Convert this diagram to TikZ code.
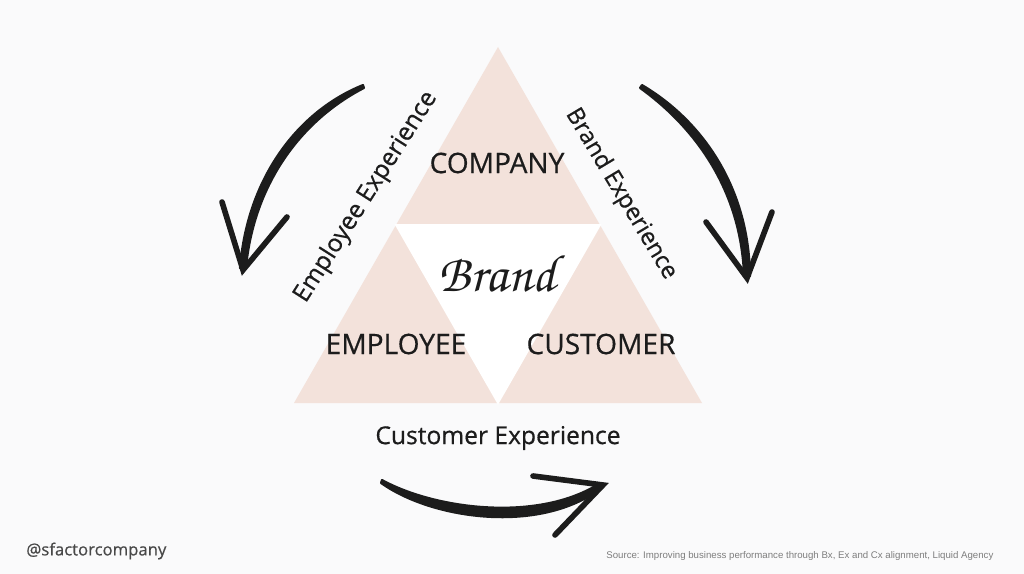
\documentclass[tikz,border=0pt]{standalone}
\usepackage[T1]{fontenc}
\usepackage{fontspec}
\setmainfont{Open Sans}[FakeBold=0.5]
\newfontfamily\sourcefont{Liberation Sans}
\usetikzlibrary{calc}
\definecolor{trianglepink}{RGB}{243,226,219}
\definecolor{pagegray}{RGB}{250,250,251}
\definecolor{inkblack}{RGB}{28,28,28}
\definecolor{handlegray}{RGB}{72,72,72}
\definecolor{sourcegray}{RGB}{125,125,125}
\newcommand{\brandscript}{\usefont{T1}{pzc}{m}{it}}
\tikzset{
    % Define standard node styles
    segmentlabel/.style={
        font=\fontsize{16}{18}\selectfont, text=inkblack, inner sep=0pt
    },
    experiencelabel/.style={
        font=\fontsize{14}{16}\selectfont, text=inkblack, inner sep=0pt
    },
    brandlabel/.style={
        font=\brandscript\fontsize{30}{32}\selectfont, text=inkblack, inner sep=0pt
    },
    brushfill/.style={
        fill=inkblack, draw=inkblack, line width=1.2pt, line join=round
    },
    brushbarb/.style={
        draw=inkblack, line width=3.2pt, line cap=round
    }
}

\begin{document}
\begin{tikzpicture}[x=0.02cm, y=-0.02cm]

\fill[pagegray] (0,0) rectangle (1024,574);
\useasboundingbox (0,0) rectangle (1024,574);

% triangle corners
\coordinate (apex) at (498,47);
\coordinate (bl) at (294,403);
\coordinate (br) at (702,403);
\coordinate (ml) at ($(apex)!0.5!(bl)$);
\coordinate (mr) at ($(apex)!0.5!(br)$);
\coordinate (mb) at ($(bl)!0.5!(br)$);

\fill[trianglepink] (apex) -- (bl) -- (br) -- cycle;
\filldraw[fill=white, draw=white, line width=1pt] (ml) -- (mr) -- (mb) -- cycle;

\node[segmentlabel] (company) at (497,163) {COMPANY};
\node[segmentlabel] (employee) at (396,344) {EMPLOYEE};
\node[segmentlabel] (customer) at (601,344) {CUSTOMER};
\node[brandlabel] (brand) at (497,273) {Brand};

\node[experiencelabel, rotate=57.5] (empexp) at (366,197) {Employee Experience};
\node[experiencelabel, rotate=-59, font=\fontsize{13.5}{15}\selectfont] (brandexp) at (621,194) {Brand Experience};
\node[experiencelabel] (custexp) at (498,438) {Customer Experience};

% hand drawn arrows
\coordinate (leftstart) at (363,85);
\coordinate (lefttip) at (243,270);
\fill[brushfill] (leftstart) .. controls (298,111) and (247,178) .. (240,268)
    -- (246,268) .. controls (254,183) and (302,120) .. (364,88) -- cycle;
\draw[brushbarb] (222,202) -- (lefttip) -- (287,217);

\coordinate (rightstart) at (642,85);
\coordinate (righttip) at (747,278);
\fill[brushfill] (rightstart) .. controls (703,121) and (749,188) .. (750,276)
    -- (744,276) .. controls (741,192) and (697,129) .. (640,88) -- cycle;
\draw[brushbarb] (706,222) -- (righttip) -- (772,212);

\coordinate (bottomstart) at (382,480);
\coordinate (bottomtip) at (603,485);
\fill[brushfill] (bottomstart) .. controls (437,510) and (540,522) .. (600,483)
    -- (600,489) .. controls (540,534) and (433,520) .. (381,483) -- cycle;
\draw[brushbarb] (533,476) -- (bottomtip) -- (555,535);

\node[font=\fontsize{9.5}{11}\selectfont, text=handlegray, anchor=west, inner sep=0pt] (handle) at (26,551) {@sfactorcompany};
\node[font=\sourcefont\fontsize{5.5}{6.5}\selectfont, text=sourcegray, anchor=west, inner sep=0pt] (source) at (606,556) {Source: Improving business performance through Bx, Ex and Cx alignment, Liquid Agency};

\end{tikzpicture}
\end{document}
